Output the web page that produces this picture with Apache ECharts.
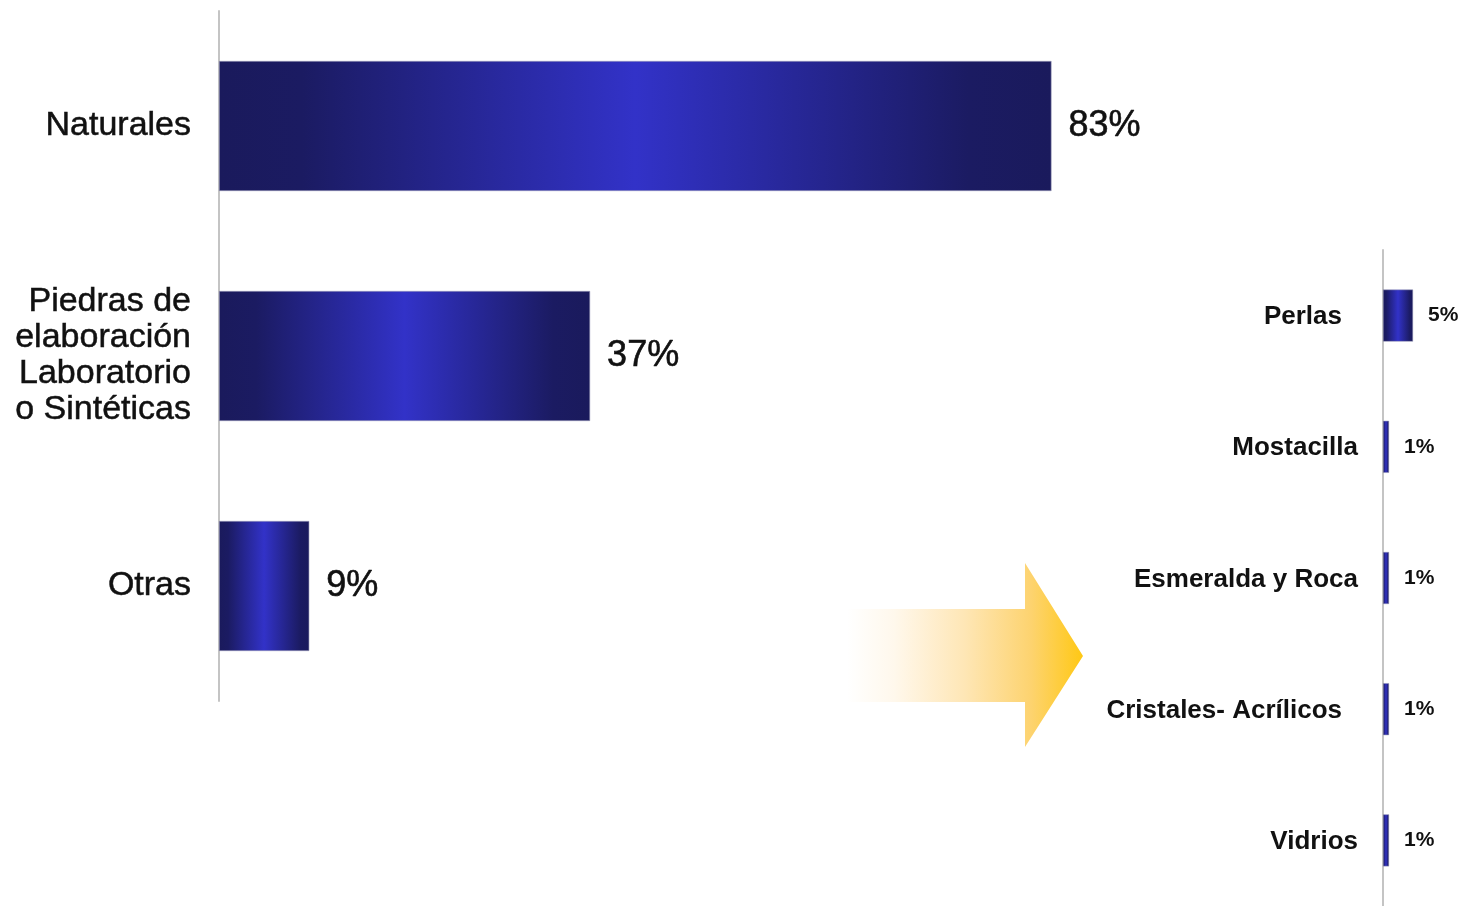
<!DOCTYPE html>
<html>
<head>
<meta charset="utf-8">
<script src="https://cdn.jsdelivr.net/npm/echarts@6/dist/echarts.min.js"></script>
<style>
html,body{margin:0;padding:0;background:#fff;}
#chart{width:1460px;height:906px;}
</style>
</head>
<body>
<div id="chart"></div>
<script>
// Main chart
var mainCategories = ['Naturales', 'Piedras de\nelaboración\nLaboratorio\no Sintéticas', 'Otras'];
var mainValues = [83, 37, 9];
// Breakdown of "Otras"
var otherCategories = ['Perlas', 'Mostacilla', 'Esmeralda y Roca', 'Cristales- Acrílicos', 'Vidrios'];
var otherValues = [5, 1, 1, 1, 1];

var barGradient = new echarts.graphic.LinearGradient(0, 0, 1, 0, [
  {offset: 0, color: '#1a1a5c'},
  {offset: 0.1, color: '#1b1b62'},
  {offset: 0.5, color: '#3232c8'},
  {offset: 0.9, color: '#1b1b62'},
  {offset: 1, color: '#1a1a5c'}
]);

var font = '"Liberation Sans", Arial, sans-serif';
var chart = echarts.init(document.getElementById('chart'), null, {renderer: 'canvas'});

var option = {
  backgroundColor: '#ffffff',
  animation: false,
  grid: [
    {left: 219, top: 11, width: 1003, height: 690, containLabel: false},
    {left: 1383, top: 250, width: 60, height: 657, containLabel: false}
  ],
  xAxis: [
    {gridIndex: 0, type: 'value', min: 0, max: 100, show: false},
    {gridIndex: 1, type: 'value', min: 0, max: 10, show: false}
  ],
  yAxis: [
    {
      gridIndex: 0, type: 'category', data: mainCategories, inverse: true,
      axisLine: {show: true, lineStyle: {color: '#c4c4c4', width: 2}},
      axisTick: {show: false},
      axisLabel: {
        margin: 28, fontSize: 34, lineHeight: 36, color: '#111', fontFamily: font, align: 'right',
        textBorderColor: '#111', textBorderWidth: 0.5, padding: [5, 0, 0, 0]
      }
    },
    {
      gridIndex: 1, type: 'category', data: otherCategories, inverse: true,
      axisLine: {show: true, lineStyle: {color: '#c4c4c4', width: 2}},
      axisTick: {show: false},
      axisLabel: {
        margin: 25, color: '#111', fontFamily: font,
        formatter: function (v) {
          if (v === 'Perlas' || v === 'Cristales- Acrílicos') return '{p|' + v + '}';
          return '{n|' + v + '}';
        },
        rich: {
          n: {fontSize: 26, fontWeight: 'bold', color: '#111', fontFamily: font, padding: [3, 0, 0, 0]},
          p: {fontSize: 26, fontWeight: 'bold', color: '#111', fontFamily: font, padding: [3, 16, 0, 0]}
        }
      }
    }
  ],
  series: [
    {
      type: 'bar', xAxisIndex: 0, yAxisIndex: 0, data: mainValues, barWidth: 130,
      itemStyle: {color: barGradient, borderColor: '#9a9ab8', borderWidth: 0.6},
      label: {
        show: true, position: 'right', distance: 17, formatter: '{c}%',
        fontSize: 36, color: '#111', fontFamily: font,
        textBorderColor: '#111', textBorderWidth: 0.6, padding: [6, 0, 0, 0]
      }
    },
    {
      type: 'bar', xAxisIndex: 1, yAxisIndex: 1, data: otherValues, barWidth: 52,
      itemStyle: {color: barGradient, borderColor: '#9a9ab8', borderWidth: 0.5},
      label: {
        show: true, position: 'right', distance: 15, formatter: '{c}%',
        fontSize: 21, fontWeight: 'bold', color: '#111', fontFamily: font, padding: [3, 0, 0, 0]
      }
    }
  ],
  graphic: [
    {
      type: 'polygon',
      shape: {points: [[847, 609], [1025, 609], [1025, 563], [1083, 656], [1025, 747], [1025, 702], [847, 702]]},
      style: {
        fill: new echarts.graphic.LinearGradient(0, 0, 1, 0, [
          {offset: 0, color: 'rgba(255,255,255,1)'},
          {offset: 0.2, color: '#fff8ec'},
          {offset: 0.5, color: '#fee6b5'},
          {offset: 0.78, color: '#fdd36f'},
          {offset: 1, color: '#ffc814'}
        ])
      },
      z: 0
    }
  ]
};
chart.setOption(option);
</script>
</body>
</html>
